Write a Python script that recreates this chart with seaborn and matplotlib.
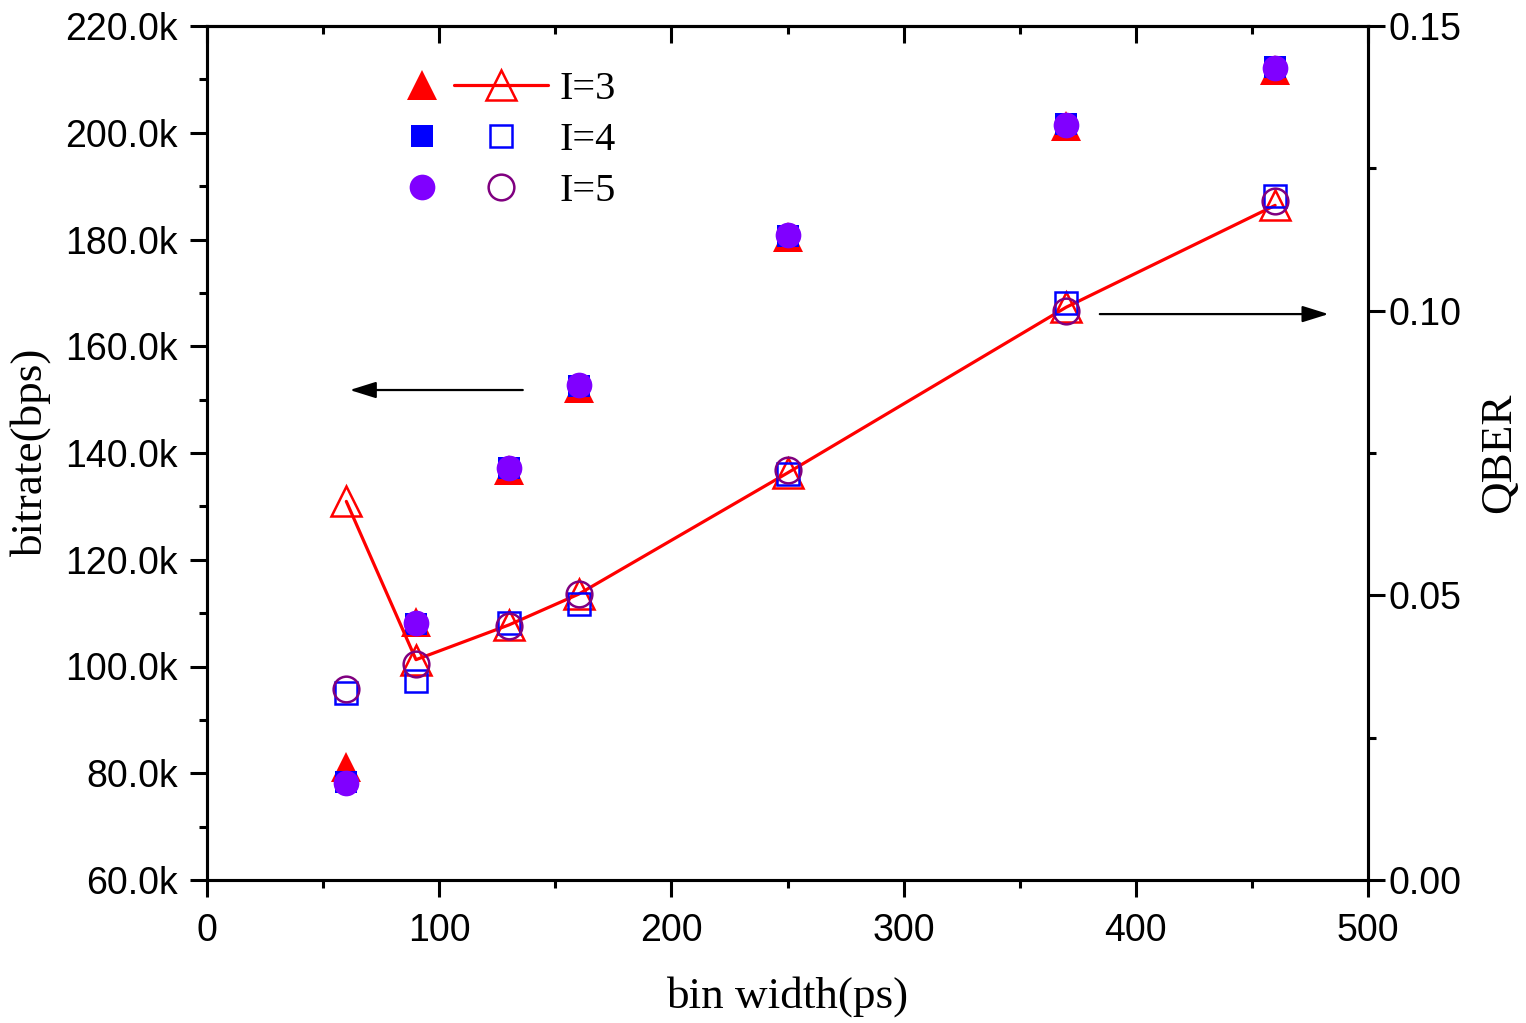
import matplotlib
matplotlib.use("Agg")
import matplotlib.pyplot as plt
from matplotlib.lines import Line2D
from matplotlib.legend_handler import HandlerTuple
from matplotlib.ticker import MultipleLocator, FuncFormatter
import seaborn as sns
import pandas as pd

# ---- data ----
bin_width = [60, 90, 130, 160, 250, 370, 460]
rate_I3 = [81.2e3, 108.4e3, 136.8e3, 152.2e3, 180.5e3, 201.2e3, 211.8e3]
rate_I4 = [78.3e3, 108.0e3, 137.2e3, 152.5e3, 180.7e3, 201.6e3, 212.3e3]
rate_I5 = [78.2e3, 108.1e3, 137.2e3, 152.7e3, 180.8e3, 201.4e3, 212.2e3]
qber_I3 = [0.0665, 0.0387, 0.0448, 0.0502, 0.0715, 0.1006, 0.1185]
qber_I4 = [0.0328, 0.0349, 0.0451, 0.0485, 0.0713, 0.1013, 0.1202]
qber_I5 = [0.0335, 0.0379, 0.0447, 0.0503, 0.0720, 0.0999, 0.1192]
labels = ["I=3", "I=4", "I=5"]

sns.set_style("white")
plt.rcParams["font.family"] = ["Liberation Sans", "DejaVu Sans"]
plt.rcParams["text.color"] = "black"
plt.rcParams["axes.labelcolor"] = "black"
plt.rcParams["xtick.color"] = "black"
plt.rcParams["ytick.color"] = "black"

RED = "#FF0000"
BLUE = "#0000FF"
VIOLET = "#8000FF"
PURPLE = "#800080"

fig = plt.figure(figsize=(15.26, 10.23), dpi=100)
ax = fig.add_axes([207 / 1526, 1 - 880 / 1023, 1161 / 1526, 854 / 1023])
ax2 = ax.twinx()

df = pd.DataFrame({"x": bin_width, "r3": rate_I3, "r4": rate_I4, "r5": rate_I5,
                   "q3": qber_I3, "q4": qber_I4, "q5": qber_I5})

ms_tri, ms_sq, ms_ci = 21, 16.5, 18.5

# filled markers: bitrate (left axis)
sns.lineplot(data=df, x="x", y="r3", ax=ax, linestyle="", marker="^", markersize=ms_tri,
             color=RED, mec=RED, mew=0, zorder=3)
sns.lineplot(data=df, x="x", y="r4", ax=ax, linestyle="", marker="s", markersize=ms_sq,
             color=BLUE, mec=BLUE, mew=0, zorder=4)
sns.lineplot(data=df, x="x", y="r5", ax=ax, linestyle="", marker="o", markersize=ms_ci,
             color=VIOLET, mec=VIOLET, mew=0, zorder=5)

# hollow markers: QBER (right axis)
sns.lineplot(data=df, x="x", y="q3", ax=ax2, color=RED, linewidth=2.3, zorder=2, sort=False)
sns.lineplot(data=df, x="x", y="q3", ax=ax2, linestyle="", marker="^", markersize=ms_tri,
             color=RED, mec=RED, mfc="none", mew=1.8, zorder=3)
sns.lineplot(data=df, x="x", y="q4", ax=ax2, linestyle="", marker="s", markersize=ms_sq,
             color=BLUE, mec=BLUE, mfc="none", mew=1.8, zorder=4)
sns.lineplot(data=df, x="x", y="q5", ax=ax2, linestyle="", marker="o", markersize=ms_ci,
             color=PURPLE, mec=PURPLE, mfc="none", mew=1.8, zorder=5)

# axes limits / ticks
ax.set_xlim(0, 500)
ax.set_ylim(60e3, 220e3)
ax2.set_ylim(0, 0.15)

ax.xaxis.set_major_locator(MultipleLocator(100))
ax.xaxis.set_minor_locator(MultipleLocator(50))
ax.yaxis.set_major_locator(MultipleLocator(20e3))
ax.yaxis.set_minor_locator(MultipleLocator(10e3))
ax.yaxis.set_major_formatter(FuncFormatter(lambda v, p: f"{v/1000:.1f}k"))
ax2.yaxis.set_major_locator(MultipleLocator(0.05))
ax2.yaxis.set_minor_locator(MultipleLocator(0.025))
ax2.yaxis.set_major_formatter(FuncFormatter(lambda v, p: f"{v:.2f}"))

for a in (ax, ax2):
    for s in a.spines.values():
        s.set_linewidth(2.2)
        s.set_color("black")
        s.set_visible(True)

MAJ, MIN = 12, 6
ax.tick_params(axis="x", which="both", direction="out", bottom=True, top=False,
               labelsize=27, pad=12, width=2.2, color="black", labelcolor="black")
ax.tick_params(axis="x", which="major", length=MAJ)
ax.tick_params(axis="x", which="minor", length=MIN)
ax.tick_params(axis="y", which="both", direction="out", left=True, right=False,
               labelsize=27, pad=9, width=2.2, labelcolor="black")
ax.tick_params(axis="y", which="major", length=MAJ)
ax.tick_params(axis="y", which="minor", length=MIN)
ax2.tick_params(axis="y", which="both", direction="out", right=True, left=False,
                labelsize=27, pad=3, width=2.2, labelcolor="black")
ax2.tick_params(axis="y", which="major", length=MAJ)
ax2.tick_params(axis="y", which="minor", length=MIN)

# top axis: inward ticks without labels
secx = ax.secondary_xaxis("top")
secx.xaxis.set_major_locator(MultipleLocator(100))
secx.xaxis.set_minor_locator(MultipleLocator(50))
secx.tick_params(axis="x", which="both", direction="in", labeltop=False, width=2.2)
secx.tick_params(axis="x", which="major", length=MAJ)
secx.tick_params(axis="x", which="minor", length=MIN)
secx.spines["top"].set_linewidth(2.2)

serif = ["Liberation Serif", "DejaVu Serif"]
ax.set_xlabel("bin width(ps)", fontsize=32.5, family=serif, color="black")
ax.set_ylabel("bitrate(bps)", fontsize=32.5, family=serif, color="black")
ax2.set_ylabel("QBER", fontsize=32.5, family=serif, color="black")
ax.xaxis.set_label_coords(0.5, -0.112)
ax.yaxis.set_label_coords(-0.134, 0.5)
ax2.yaxis.set_label_coords(1.096, 0.5)

# arrows
ax.annotate("", xy=(61.5, 151.8e3), xytext=(136, 151.8e3),
            arrowprops=dict(arrowstyle="-|>,head_length=0.8,head_width=0.25",
                            mutation_scale=20, lw=1.6, color="black",
                            shrinkA=0, shrinkB=0))
ax2.annotate("", xy=(483, 0.0994), xytext=(384.5, 0.0994),
             arrowprops=dict(arrowstyle="-|>,head_length=0.8,head_width=0.25",
                             mutation_scale=20, lw=1.6, color="black",
                             shrinkA=0, shrinkB=0))

# legend
def mk(marker, ms, fc, ec, ls="none"):
    return Line2D([], [], marker=marker, markersize=ms, mfc=fc, mec=ec,
                  mew=1.8 if fc == "none" else 0, linestyle=ls, color=ec, linewidth=2.3)

handles = [
    (mk("^", ms_tri, RED, RED), mk("^", ms_tri, "none", RED, ls="-")),
    (mk("s", ms_sq, BLUE, BLUE), mk("s", ms_sq, "none", BLUE)),
    (mk("o", ms_ci, VIOLET, VIOLET), mk("o", ms_ci, "none", PURPLE)),
]
leg = ax2.legend(handles, labels, handler_map={tuple: HandlerTuple(ndivide=None, pad=-0.4)},
                 loc="upper left", bbox_to_anchor=(0.1447, 0.948), frameon=False,
                 prop={"family": serif, "size": 29}, handlelength=4.3,
                 handletextpad=0.27, labelspacing=0.35, borderpad=0, borderaxespad=0,
                 numpoints=1, labelcolor="black")

fig.savefig("out.png", dpi=100)
